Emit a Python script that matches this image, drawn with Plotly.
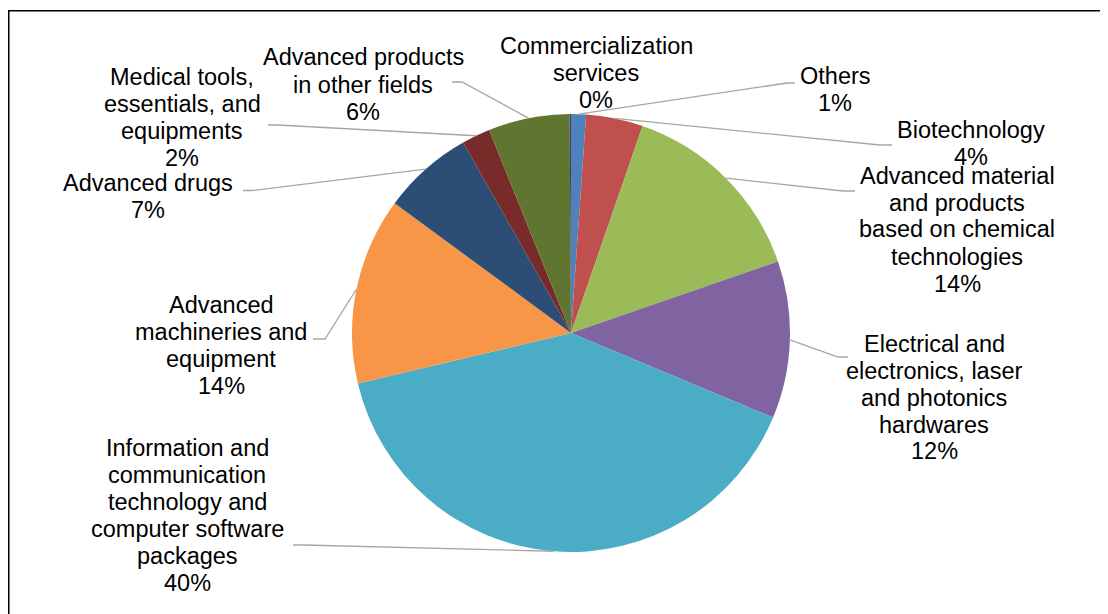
import plotly.graph_objects as go
import math

# ---------------- data ----------------
categories = [
    "Others",
    "Biotechnology",
    "Advanced material\nand products\nbased on chemical\ntechnologies",
    "Electrical and\nelectronics, laser\nand photonics\nhardwares",
    "Information and\ncommunication\ntechnology and\ncomputer software\npackages",
    "Advanced\nmachineries and\nequipment",
    "Advanced drugs",
    "Medical tools,\nessentials, and\nequipments",
    "Advanced products\nin other fields",
    "Commercialization\nservices",
]
values = [1.1, 4.2, 14.4, 11.6, 40.0, 13.8, 6.7, 2.1, 6.0, 0.1]
colors = ["#4F81BD", "#C0504D", "#9BBB59", "#8064A2", "#4BACC6",
          "#F79646", "#2C4D75", "#772C2A", "#5F7530", "#4D3B62"]

# ---------------- layout constants (reference-image pixels) ----------------
W, H = 1108, 614
OFF = 8                      # page body margin offset
FW, FH = W - OFF, H - OFF    # figure size
CX, CY, R = 571, 333, 219
LINE_H = 27
FONT = dict(family="Liberation Sans, Arial, sans-serif", size=23.5, color="#000000")

# label block centres (x, y) in pixels
label_pos = [(835, 89.5), (971, 143.5), (957, 229.5), (934, 397.5), (187, 515.5),
             (221, 345.5), (147.5, 196.5), (182, 117.5), (363, 84.5), (596, 73)]
# leader line elbow and end points (pixels); None = no leader
leader_pts = [
    [(787, 83), (795, 83)],
    [(880, 145), (892, 145)],
    [(843, 191), (855, 191)],
    [(838, 357), (848, 357)],
    [(303, 545), (293, 545)],
    [(325, 339), (313, 339)],
    [(253, 190.5), (243, 190.5)],
    [(278, 125), (268, 125)],
    [(462, 82), (452, 82)],
    None,
]


def px(x):
    return (x - OFF) / FW


def py(y):
    return 1 - (y - OFF) / FH


fig = go.Figure(go.Pie(
    labels=[c.replace("\n", " ") for c in categories],
    values=values,
    sort=False,
    direction="clockwise",
    rotation=0,
    marker=dict(colors=colors, line=dict(width=0)),
    textinfo="none",
    hoverinfo="label+percent",
    showlegend=False,
    domain=dict(x=[px(CX - R), px(CX + R)], y=[py(CY + R), py(CY - R)]),
))

total = sum(values)
annotations = []
shapes = []
cum = 0.0
for i, (cat, v) in enumerate(zip(categories, values)):
    mid = (cum + v / 2) / total * 2 * math.pi
    cum += v
    pct = f"{round(v / total * 100)}%"
    lines = cat.split("\n") + [pct]
    lx, ly = label_pos[i]
    n = len(lines)
    for j, t in enumerate(lines):
        yy = ly + (j - (n - 1) / 2) * LINE_H
        annotations.append(dict(
            x=px(lx), y=py(yy), xref="paper", yref="paper", text=t,
            showarrow=False, xanchor="center", yanchor="middle", font=FONT,
        ))
    if leader_pts[i] is not None:
        sx = CX + R * math.sin(mid)
        sy = CY - R * math.cos(mid)
        pts = [(sx, sy)] + leader_pts[i]
        path = "M " + " L ".join(f"{px(a):.5f},{py(b):.5f}" for a, b in pts)
        shapes.append(dict(type="path", xref="paper", yref="paper", path=path,
                           line=dict(color="#A6A6A6", width=1.3)))

# chart frame
shapes.append(dict(type="rect", xref="paper", yref="paper",
                   x0=px(8.75), y0=py(640), x1=px(1130), y1=py(10.75),
                   line=dict(color="#000000", width=1.5)))

fig.update_layout(
    width=FW, height=FH,
    margin=dict(l=0, r=0, t=0, b=0),
    paper_bgcolor="white", plot_bgcolor="white",
    annotations=annotations, shapes=shapes,
)

fig.write_html("out.html")
